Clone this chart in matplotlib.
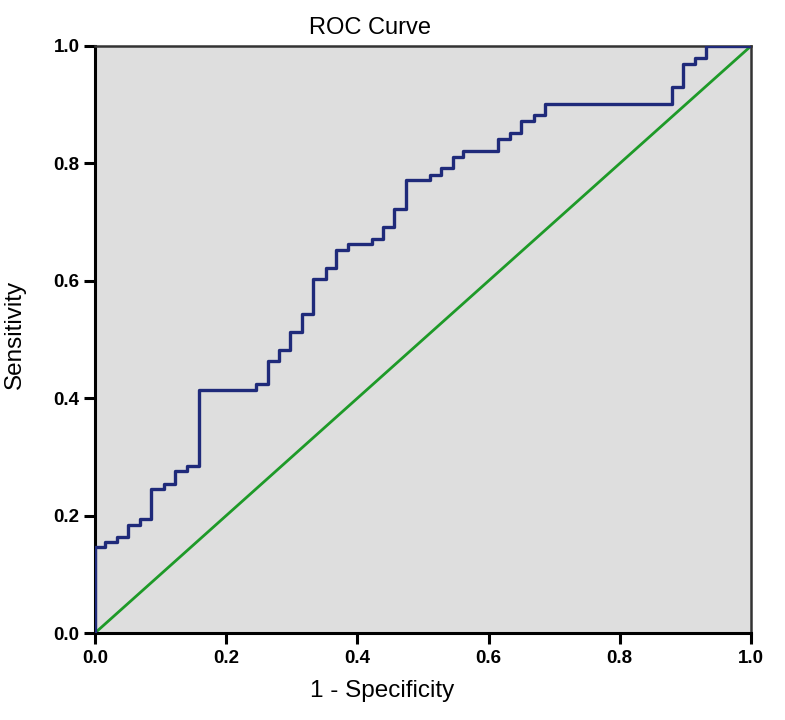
import matplotlib
matplotlib.use("Agg")
import matplotlib.pyplot as plt

fpr = [0.0, 0.0, 0.015, 0.034, 0.051, 0.069, 0.086, 0.105, 0.122, 0.140, 0.158,
       0.245, 0.263, 0.280, 0.297, 0.315, 0.333, 0.352, 0.368, 0.386, 0.422,
       0.439, 0.456, 0.474, 0.510, 0.527, 0.545, 0.561, 0.615, 0.633, 0.650,
       0.669, 0.686, 0.879, 0.897, 0.914, 0.931, 1.0]
tpr = [0.0, 0.147, 0.155, 0.164, 0.184, 0.195, 0.245, 0.253, 0.276, 0.284, 0.414,
       0.424, 0.463, 0.482, 0.512, 0.543, 0.603, 0.622, 0.652, 0.662, 0.672,
       0.692, 0.723, 0.772, 0.781, 0.792, 0.811, 0.821, 0.842, 0.851, 0.872,
       0.882, 0.902, 0.931, 0.970, 0.979, 1.0, 1.0]
ref_x = [0.0, 1.0]
ref_y = [0.0, 1.0]
ticks = [0.0, 0.2, 0.4, 0.6, 0.8, 1.0]
tick_labels = ["0.0", "0.2", "0.4", "0.6", "0.8", "1.0"]

plt.rcParams['font.family'] = ['Liberation Sans', 'DejaVu Sans']

fig = plt.figure(figsize=(7.85, 7.2), dpi=100)
ax = fig.add_axes([95/785, 87/720, (751-95)/785, (633-46)/720])
ax.set_facecolor('#DEDEDE')

ax.plot(ref_x, ref_y, color='#1E9A28', lw=2.0, zorder=2)
ax.step(fpr, tpr, where='post', color='#1F2A7A', lw=2.4, zorder=3)

ax.set_xlim(0, 1)
ax.set_ylim(0, 1)
ax.set_xticks(ticks)
ax.set_yticks(ticks)
ax.set_xticklabels(tick_labels, fontsize=13.5, fontweight='bold')
ax.set_yticklabels(tick_labels, fontsize=13.5, fontweight='bold')
ax.tick_params(direction='out', length=8, width=2.2, color='black')
ax.tick_params(axis='x', pad=4)
ax.tick_params(axis='y', pad=3)

for s in ['left', 'bottom']:
    ax.spines[s].set_linewidth(2.2)
    ax.spines[s].set_color('black')
for s in ['top', 'right']:
    ax.spines[s].set_linewidth(1.8)
    ax.spines[s].set_color('#333333')

fig.text(370/785, 1 - 28/720, "ROC Curve", fontsize=17, ha='center', va='center')
fig.text(382/785, 1 - 691/720, "1 - Specificity", fontsize=17.5, ha='center', va='center')
fig.text(15/785, 1 - 334/720, "Sensitivity", fontsize=17.5, ha='center', va='center',
         rotation=90)

fig.savefig("out.png", dpi=100)
